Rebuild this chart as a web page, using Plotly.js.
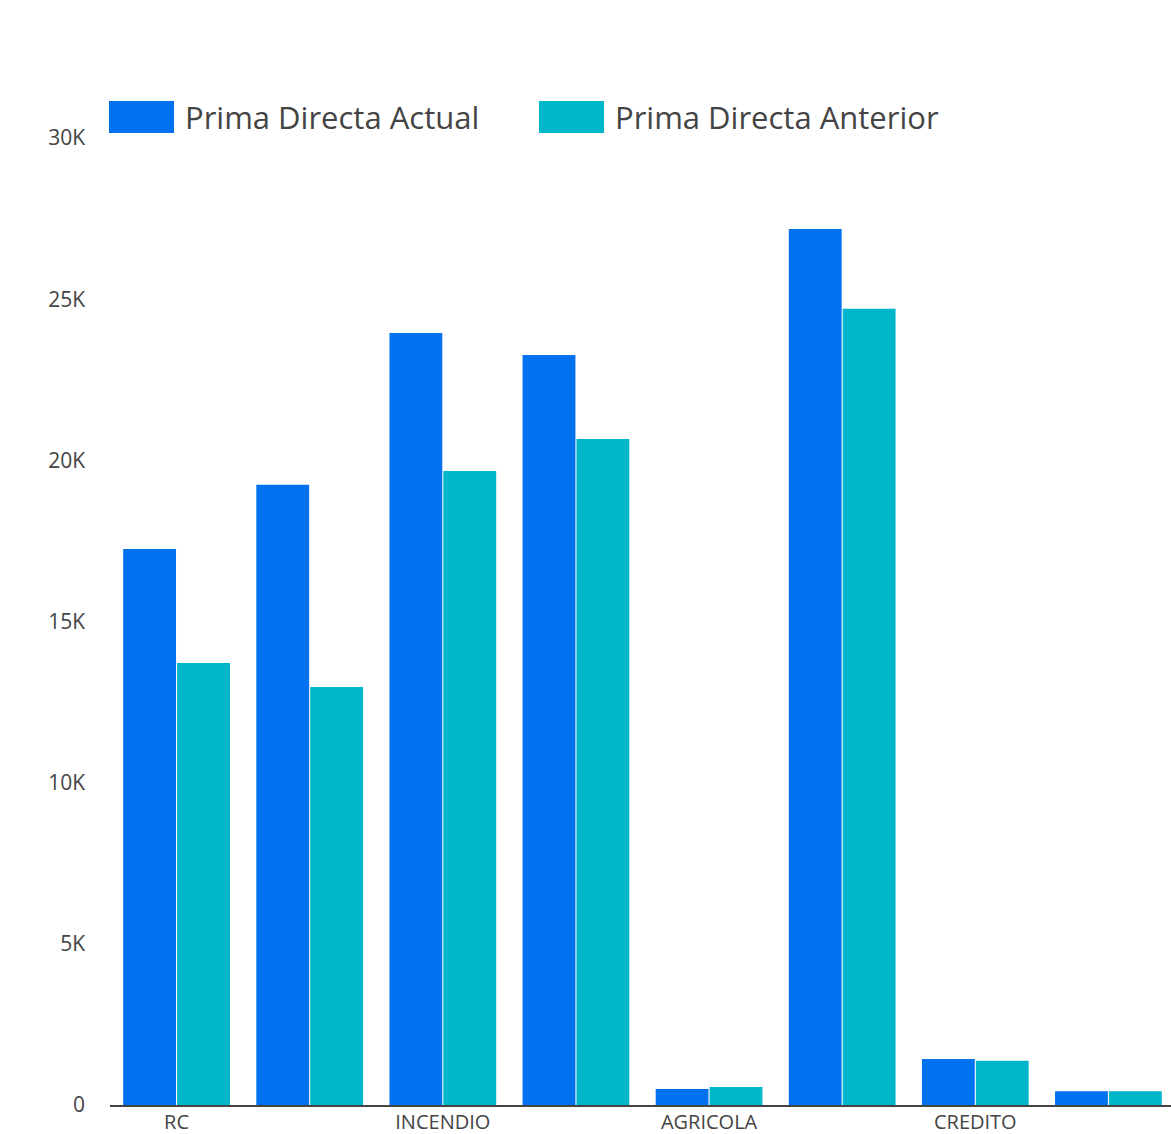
<!DOCTYPE html>
<html>
<head>
<meta charset="utf-8">
<script src="https://cdn.plot.ly/plotly-3.0.1.min.js"></script>
<style>html,body{margin:0;padding:0;background:#fff;overflow:hidden;}#chart{width:1175px;height:1134px;}</style>
</head>
<body>
<div id="chart"></div>
<script>
var categories = ["RC", "MARITIMO Y TRANSPORTES", "INCENDIO", "TERREMOTO", "AGRICOLA", "AUTOMOVILES", "CREDITO", "DIVERSOS"];
var shownLabels = ["RC", "INCENDIO", "AGRICOLA", "CREDITO"];
var primaActual = [17250, 19240, 23950, 23270, 500, 27180, 1430, 430];
var primaAnterior = [13710, 12970, 19670, 20660, 560, 24700, 1370, 430];
var seriesNames = ["Prima Directa Actual", "Prima Directa Anterior"];
var yTickVals = [0, 5000, 10000, 15000, 20000, 25000, 30000];
var yTickText = ["0", "5K", "10K", "15K", "20K", "25K", "30K"];

var colors = ["#0072F0", "#00B6CB"];
var font = "Open Sans, Noto Sans, sans-serif";

var traces = [
  {type: "bar", name: seriesNames[0], x: categories, y: primaActual, marker: {color: colors[0]}, hoverinfo: "x+y+name"},
  {type: "bar", name: seriesNames[1], x: categories, y: primaAnterior, marker: {color: colors[1]}, hoverinfo: "x+y+name"}
];

var W = 1175, H = 1134, ml = 110, mr = 0, mt = 138, mb = 29;
var pw = W - ml - mr, ph = H - mt - mb;
function px(x) { return (x - ml) / pw; }
function py(y) { return (H - mb - y) / ph; }

var layout = {
  width: W, height: H,
  margin: {l: ml, r: mr, t: mt, b: mb, pad: 0},
  paper_bgcolor: "#fff", plot_bgcolor: "#fff",
  barmode: "group", bargap: 0.19, bargroupgap: 0.02,
  showlegend: false,
  font: {family: font, color: "#444", size: 20},
  xaxis: {
    type: "category",
    tickmode: "array", tickvals: shownLabels, ticktext: shownLabels,
    showline: true, linecolor: "#444", linewidth: 2,
    showgrid: false, zeroline: false, ticks: "",
    tickfont: {family: font, size: 20, color: "#444"},
    ticklabelstandoff: -2, fixedrange: true
  },
  yaxis: {
    range: [0, 30000],
    tickmode: "array", tickvals: yTickVals, ticktext: yTickText,
    showline: false, showgrid: false, zeroline: false, ticks: "",
    tickfont: {family: font, size: 21, color: "#444"},
    ticklabelstandoff: 24, fixedrange: true
  },
  shapes: [
    {type: "rect", xref: "paper", yref: "paper", x0: px(109), x1: px(174), y0: py(133), y1: py(101), fillcolor: colors[0], line: {width: 0}},
    {type: "rect", xref: "paper", yref: "paper", x0: px(539), x1: px(604), y0: py(133), y1: py(101), fillcolor: colors[1], line: {width: 0}}
  ],
  annotations: [
    {xref: "paper", yref: "paper", x: px(183), y: py(117), xanchor: "left", yanchor: "middle", text: seriesNames[0], showarrow: false, font: {family: font, size: 31, color: "#444"}},
    {xref: "paper", yref: "paper", x: px(613), y: py(117), xanchor: "left", yanchor: "middle", text: seriesNames[1], showarrow: false, font: {family: font, size: 31, color: "#444"}}
  ]
};

Plotly.newPlot("chart", traces, layout, {displayModeBar: false});
</script>
</body>
</html>
